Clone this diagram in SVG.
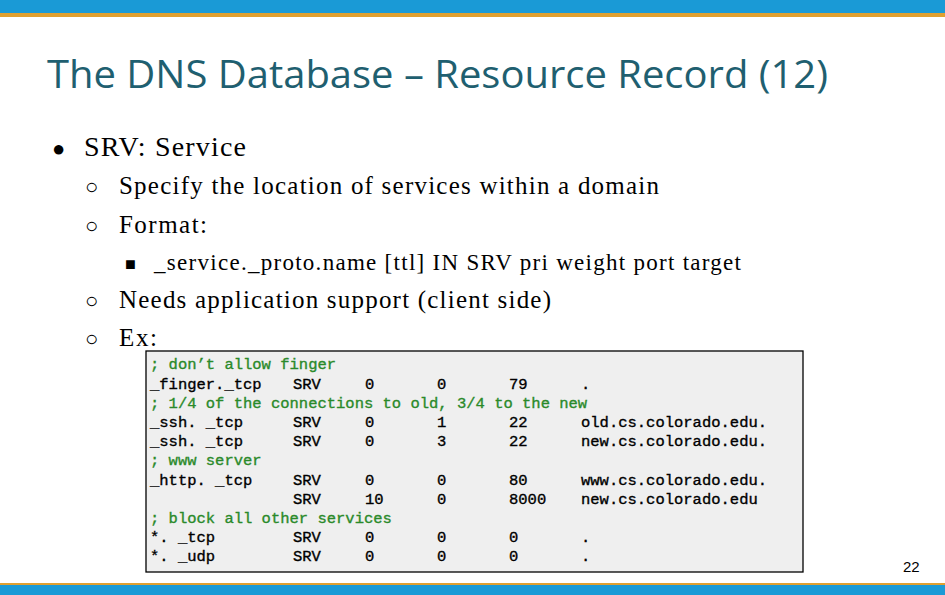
<svg xmlns="http://www.w3.org/2000/svg" width="945" height="595" viewBox="0 0 945 595">
<style>
.t{font-family:"Liberation Serif",serif;fill:#000}
.c{font-family:"Liberation Mono",monospace;font-size:15.5px;fill:#000;stroke:#000;stroke-width:0.35;white-space:pre}
.g{fill:#2a8a2a;stroke:#2a8a2a}
</style>
<rect width="945" height="595" fill="#fff"/>
<rect width="945" height="13" fill="#1a9ad6"/>
<rect y="13" width="945" height="4" fill="#e0a030"/>
<rect y="583" width="945" height="2" fill="#e0a030"/>
<rect y="585" width="945" height="10" fill="#1a9ad6"/>
<text x="47" y="88" font-family="'Source Sans Pro','Open Sans',sans-serif" font-size="38" fill="#1f5f70" textLength="781" lengthAdjust="spacingAndGlyphs">The DNS Database – Resource Record (12)</text>
<g class="t">
<text x="52" y="156" font-size="22">●</text>
<text x="84" y="156" font-size="28" textLength="162">SRV: Service</text>
<text x="85" y="194" font-size="22">○</text>
<text x="119" y="194" font-size="25" textLength="540">Specify the location of services within a domain</text>
<text x="85" y="233" font-size="22">○</text>
<text x="119" y="233" font-size="25" textLength="88">Format:</text>
<text x="125" y="270" font-size="18">■</text>
<text x="154" y="270" font-size="23" textLength="587">_service._proto.name [ttl] IN SRV pri weight port target</text>
<text x="85" y="308" font-size="22">○</text>
<text x="119" y="308" font-size="25" textLength="432">Needs application support (client side)</text>
<text x="85" y="346" font-size="22">○</text>
<text x="119" y="346" font-size="25" textLength="38">Ex:</text>
</g>
<rect x="146" y="351" width="657" height="221" fill="#efefef" stroke="#000" stroke-width="1.3"/>
<g id="code">
<text x="150" y="369" class="c g">; don’t allow finger</text>
<text x="150" y="408" class="c g">; 1/4 of the connections to old, 3/4 to the new</text>
<text x="150" y="465" class="c g">; www server</text>
<text x="150" y="523" class="c g">; block all other services</text>
<g class="c">
<text y="389"><tspan x="150">_finger._tcp</tspan><tspan x="293">SRV</tspan><tspan x="365">0</tspan><tspan x="437">0</tspan><tspan x="509">79</tspan><tspan x="581">.</tspan></text>
<text y="427"><tspan x="150">_ssh. _tcp</tspan><tspan x="293">SRV</tspan><tspan x="365">0</tspan><tspan x="437">1</tspan><tspan x="509">22</tspan><tspan x="581">old.cs.colorado.edu.</tspan></text>
<text y="446"><tspan x="150">_ssh. _tcp</tspan><tspan x="293">SRV</tspan><tspan x="365">0</tspan><tspan x="437">3</tspan><tspan x="509">22</tspan><tspan x="581">new.cs.colorado.edu.</tspan></text>
<text y="485"><tspan x="150">_http. _tcp</tspan><tspan x="293">SRV</tspan><tspan x="365">0</tspan><tspan x="437">0</tspan><tspan x="509">80</tspan><tspan x="581">www.cs.colorado.edu.</tspan></text>
<text y="504"><tspan x="293">SRV</tspan><tspan x="365">10</tspan><tspan x="437">0</tspan><tspan x="509">8000</tspan><tspan x="581">new.cs.colorado.edu</tspan></text>
<text y="542"><tspan x="150">*. _tcp</tspan><tspan x="293">SRV</tspan><tspan x="365">0</tspan><tspan x="437">0</tspan><tspan x="509">0</tspan><tspan x="581">.</tspan></text>
<text y="561"><tspan x="150">*. _udp</tspan><tspan x="293">SRV</tspan><tspan x="365">0</tspan><tspan x="437">0</tspan><tspan x="509">0</tspan><tspan x="581">.</tspan></text>
</g>
</g>
<text x="903" y="572" font-family="'Liberation Sans',sans-serif" font-size="15" fill="#000">22</text>
</svg>
